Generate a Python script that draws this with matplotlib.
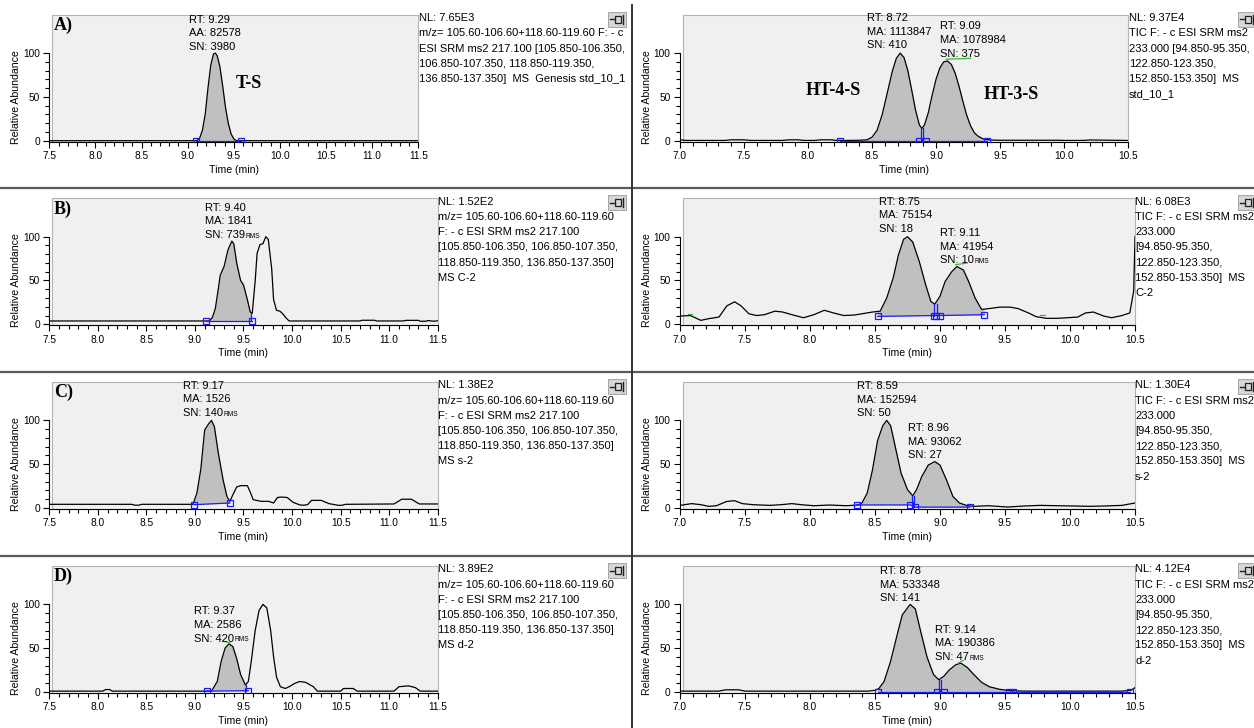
import numpy as np
import matplotlib.pyplot as plt
from matplotlib.patches import Rectangle
from matplotlib.lines import Line2D
from matplotlib.ticker import MultipleLocator, FixedLocator, FormatStrFormatter

plt.rcParams['font.family'] = ['Liberation Sans', 'DejaVu Sans']

W, H = 1254, 728  # output size in px (dpi 100)

# ---------------- traces (time in min, relative abundance) ----------------
# A) standards
t_A1 = [7.50, 9.10, 9.13, 9.16, 9.19, 9.22, 9.25, 9.28, 9.30, 9.32, 9.35, 9.38,
        9.41, 9.44, 9.47, 9.50, 9.53, 11.50]
y_A1 = [0, 0, 3, 12, 30, 60, 86, 99, 100, 97, 84, 62, 38, 20, 8, 2, 0, 0]

t_A2 = [7.00, 7.05, 7.35, 7.40, 7.50, 7.55, 7.80, 7.85, 7.92, 7.97, 8.05, 8.10,
        8.18, 8.22, 8.30, 8.40, 8.46, 8.50, 8.54, 8.58, 8.62, 8.66, 8.69, 8.72,
        8.75, 8.78, 8.81, 8.84, 8.87, 8.89, 8.91, 8.94, 8.97, 9.00, 9.03, 9.06,
        9.09, 9.12, 9.15, 9.18, 9.21, 9.24, 9.27, 9.30, 9.33, 9.37, 9.42, 9.50,
        9.95, 10.00, 10.15, 10.20, 10.50]
y_A2 = [1.0, 0.3, 0.3, 1.0, 1.0, 0.3, 0.3, 1.0, 1.0, 0.3, 0.3, 1.0, 1.0, 0.3,
        0.3, 0.5, 1, 4, 12, 30, 55, 80, 94, 100, 95, 80, 58, 35, 18, 14, 18, 32,
        52, 70, 83, 90, 91, 87, 77, 62, 45, 29, 17, 9, 5, 2, 0.8, 0.5, 0.5, 0.3,
        0.3, 0.8, 0.3]

# B) C-2
t_B1 = [7.50, 9.15, 9.18, 9.21, 9.24, 9.26, 9.30, 9.34, 9.38, 9.40, 9.43, 9.47,
        9.50, 9.54, 9.57, 9.59, 9.62, 9.64, 9.67, 9.70, 9.73, 9.755, 9.79, 9.81,
        9.84, 9.875, 9.90, 9.94, 9.97, 10.70, 10.72, 10.85, 10.87, 11.15, 11.17,
        11.30, 11.32, 11.38, 11.40, 11.46, 11.50]
y_B1 = [3.8, 3.8, 8, 18, 40, 56, 66, 85, 95, 92, 70, 50, 45, 28, 14, 12.5, 49,
        81, 91, 92, 100, 97, 64, 28, 16, 15, 12.5, 7, 3.8, 3.8, 4.6, 4.6, 3.8,
        3.8, 4.5, 4.5, 3.5, 3.5, 4.3, 3.5, 4.0]

t_B2 = [7.00, 7.08, 7.16, 7.22, 7.30, 7.36, 7.42, 7.47, 7.53, 7.59, 7.65, 7.73,
        7.79, 7.87, 7.95, 8.03, 8.11, 8.18, 8.26, 8.34, 8.40, 8.48, 8.54, 8.59,
        8.64, 8.68, 8.72, 8.75, 8.79, 8.84, 8.89, 8.93, 8.96, 9.00, 9.04, 9.09,
        9.13, 9.18, 9.22, 9.27, 9.32, 9.38, 9.46, 9.54, 9.60, 9.68, 9.74, 9.82,
        9.90, 9.98, 10.06, 10.12, 10.18, 10.26, 10.32, 10.40, 10.46, 10.49, 10.50]
y_B2 = [9.4, 10, 4.5, 6.4, 8.3, 21, 25.7, 21, 12, 10, 11, 15, 14, 10.6, 7.5, 11,
        16, 13, 10, 10.6, 12, 14, 15, 30, 53, 79, 97, 100, 94, 72, 45, 26, 23,
        32, 49, 60, 66, 62, 49, 30, 17, 18, 19.6, 19.6, 18, 13, 8.7, 6.8, 6.8,
        7.5, 8.3, 13, 14, 9.4, 7.5, 10, 13, 38, 100]

# C) s-2
t_C1 = [7.50, 8.35, 8.38, 8.42, 8.45, 8.98, 9.02, 9.06, 9.10, 9.14, 9.17, 9.20,
        9.24, 9.29, 9.33, 9.36, 9.39, 9.43, 9.47, 9.54, 9.57, 9.60, 9.68, 9.76,
        9.81, 9.85, 9.89, 9.95, 10.01, 10.08, 10.12, 10.16, 10.20, 10.30, 10.38,
        10.48, 10.52, 10.55, 11.05, 11.13, 11.23, 11.31, 11.50]
y_C1 = [4.2, 4.2, 3.2, 3.2, 4.2, 4.2, 17, 44, 89, 96, 100, 93, 63, 32, 13, 7.6,
        15, 24, 25.5, 25.5, 18, 9.5, 7.6, 7.6, 5.7, 12, 12.5, 12, 6.5, 3.5, 3.2,
        3.8, 8.7, 8.7, 5, 3, 3.2, 4.2, 4.6, 10, 10, 4.6, 4.6]

t_C2 = [7.00, 7.09, 7.16, 7.22, 7.28, 7.36, 7.42, 7.48, 7.56, 7.69, 7.78, 7.86,
        7.93, 8.03, 8.15, 8.28, 8.37, 8.40, 8.44, 8.48, 8.52, 8.56, 8.59, 8.62,
        8.65, 8.70, 8.75, 8.79, 8.82, 8.86, 8.91, 8.96, 9.00, 9.05, 9.10, 9.15,
        9.21, 9.27, 9.37, 9.52, 9.65, 9.77, 9.90, 10.02, 10.15, 10.27, 10.40, 10.50]
y_C2 = [3, 5, 3.8, 1.9, 2.6, 7.5, 8.3, 5, 3.8, 3, 3.8, 5, 3.8, 2.6, 3.4, 2.6,
        3.4, 5.7, 17, 43, 77, 94, 100, 94, 74, 40, 21, 14, 21, 36, 49, 53, 49, 32,
        13, 5.7, 2.6, 1.9, 2.6, 1.1, 2.3, 3, 2.6, 2.3, 1.9, 2.3, 3, 5.7]

# D) d-2
t_D1 = [7.50, 8.05, 8.08, 8.12, 8.15, 9.17, 9.23, 9.27, 9.31, 9.35, 9.39, 9.43,
        9.47, 9.52, 9.55, 9.58, 9.62, 9.66, 9.70, 9.74, 9.78, 9.81, 9.84, 9.88,
        9.93, 9.97, 10.03, 10.08, 10.14, 10.22, 10.26, 10.50, 10.53, 10.63, 10.67,
        11.05, 11.10, 11.20, 11.27, 11.32, 11.50]
y_D1 = [1, 1, 2.8, 2.8, 1, 1, 12, 35, 50, 55, 52, 38, 20, 8, 12, 35, 70, 93, 100,
        96, 70, 40, 17, 6, 4, 6, 10, 12, 11, 6, 1, 1, 4, 4, 1, 1, 6, 7, 5, 1, 1]

t_D2 = [7.00, 7.30, 7.35, 7.45, 7.50, 8.45, 8.50, 8.53, 8.57, 8.62, 8.67, 8.71,
        8.77, 8.81, 8.85, 8.90, 8.95, 8.99, 9.03, 9.07, 9.12, 9.16, 9.21, 9.26,
        9.32, 9.38, 9.46, 9.55, 9.65, 10.40, 10.47, 10.50]
y_D2 = [1, 1, 2.5, 2.5, 1, 1, 2, 4, 12, 35, 65, 88, 100, 95, 70, 40, 20, 14, 18,
        25, 31, 33, 28, 20, 11, 6, 3, 1.5, 1, 1, 2, 5]

# integrated peaks: (start, end, baseline at start, baseline at end)
peaks_A1 = [(9.09, 9.58, 0, 0)]
peaks_A2 = [(8.25, 8.89, 0, 0), (8.89, 9.40, 0, 0)]
peaks_B1 = [(9.11, 9.58, 3.5, 3.5)]
peaks_B2 = [(8.52, 8.96, 9, 10), (8.96, 9.34, 10, 11)]
peaks_C1 = [(8.99, 9.36, 3.8, 5.7)]
peaks_C2 = [(8.37, 8.79, 3.5, 3.5), (8.79, 9.24, 1, 1)]
peaks_D1 = [(9.13, 9.53, 1, 1.5)]
peaks_D2 = [(8.52, 9.00, 0.5, 0.5), (9.00, 9.55, 0.5, 0.5)]

# baseline markers
marks_A1 = [(9.09, 0), (9.58, 0)]
marks_A2 = [(8.25, 0), (8.87, 0), (8.92, 0), (9.40, 0)]
marks_B1 = [(9.11, 3.5), (9.59, 3.5)]
marks_B2 = [(8.52, 9), (8.95, 10), (8.97, 10), (9.00, 10), (9.34, 11)]
marks_C1 = [(8.99, 3.8), (9.36, 5.7)]
marks_C2 = [(8.36, 3.5), (8.77, 3.5), (8.81, 1), (9.23, 1)]
marks_D1 = [(9.12, 1), (9.55, 1.5)]
marks_D2 = [(8.52, 0.5), (8.98, 0.5), (9.03, 0.5), (9.53, 0.5), (9.56, 0.5), (10.46, 0.5)]

# peak split lines: (time, bottom, top)
splits_A2 = [(8.88, 0, 14), (8.90, 0, 14)]
splits_B1 = [(9.58, 3.5, 13)]
splits_B2 = [(8.955, 10, 23), (8.975, 10, 23)]
splits_C2 = [(8.785, 3, 14), (8.80, 1, 14)]
splits_D1 = [(9.53, 1.5, 8)]
splits_D2 = [(8.99, 0.5, 14), (9.01, 0.5, 14)]

# small green noise marks: (t0, t1, y0, y1)
green_A2 = [(9.08, 9.27, 93, 94)]
green_B2 = [(9.12, 9.21, 68, 70), (7.06, 7.09, 12, 12), (9.77, 9.81, 11, 11)]
green_D1 = [(9.29, 9.36, 58, 56)]
green_D2 = [(9.14, 9.18, 33, 36)]

# peak labels: (x, top y, lines, rms on last line)
ann_A1 = [(9.01, 138, ['RT: 9.29', 'AA: 82578', 'SN: 3980'], False)]
ann_A2 = [(8.46, 140, ['RT: 8.72', 'MA: 1113847', 'SN: 410'], False),
          (9.03, 130.5, ['RT: 9.09', 'MA: 1078984', 'SN: 375'], False)]
ann_B1 = [(9.10, 133, ['RT: 9.40', 'MA: 1841', 'SN: 739'], True)]
ann_B2 = [(8.53, 140, ['RT: 8.75', 'MA: 75154', 'SN: 18'], False),
          (9.00, 104, ['RT: 9.11', 'MA: 41954', 'SN: 10'], True)]
ann_C1 = [(8.88, 139.5, ['RT: 9.17', 'MA: 1526', 'SN: 140'], True)]
ann_C2 = [(8.36, 139, ['RT: 8.59', 'MA: 152594', 'SN: 50'], False),
          (8.75, 91, ['RT: 8.96', 'MA: 93062', 'SN: 27'], False)]
ann_D1 = [(8.99, 92, ['RT: 9.37', 'MA: 2586', 'SN: 420'], True)]
ann_D2 = [(8.54, 138, ['RT: 8.78', 'MA: 533348', 'SN: 141'], False),
          (8.96, 71, ['RT: 9.14', 'MA: 190386', 'SN: 47'], True)]

# compound names
names_A1 = [(9.66, 65, 'T-S')]
names_A2 = [(8.20, 57, 'HT-4-S'), (9.59, 53, 'HT-3-S')]

info_left_A = ['NL: 7.65E3', 'm/z= 105.60-106.60+118.60-119.60 F: - c',
               'ESI SRM ms2 217.100 [105.850-106.350,',
               '106.850-107.350, 118.850-119.350,',
               '136.850-137.350]  MS  Genesis std_10_1']
info_left_head = ['m/z= 105.60-106.60+118.60-119.60', 'F: - c ESI SRM ms2 217.100',
                  '[105.850-106.350, 106.850-107.350,', '118.850-119.350, 136.850-137.350]']
info_right_A = ['NL: 9.37E4', 'TIC F: - c ESI SRM ms2', '233.000 [94.850-95.350,',
                '122.850-123.350,', '152.850-153.350]  MS', 'std_10_1']
info_right_head = ['TIC F: - c ESI SRM ms2', '233.000', '[94.850-95.350,',
                   '122.850-123.350,', '152.850-153.350]  MS']

# ---------------- layout (pixels) ----------------
row_zero = [140.7, 324.3, 508.0, 692.0]   # pixel row of y = 0
PX_PER_UNIT = 0.876                         # vertical px per abundance unit
YMIN, YMAX = -1, 144

fig = plt.figure(figsize=(W / 100, H / 100), dpi=100)
rms_texts = []


def fx(x):
    return x / W


def fy(y):
    return 1 - y / H


def fill_peak(ax, t, y, t0, t1, b0, b1):
    t = np.asarray(t, float)
    y = np.asarray(y, float)
    inside = (t > t0) & (t < t1)
    tt = np.concatenate([[t0], t[inside], [t1]])
    yy = np.interp(tt, t, y)
    bb = np.interp(tt, [t0, t1], [b0, b1])
    ax.fill_between(tt, bb, yy, color='#c0c0c0', lw=0, zorder=1)


def pin(xp, yp):
    fig.add_artist(Rectangle((fx(xp), fy(yp + 15)), 18 / W, 15 / H,
                             transform=fig.transFigure, fc='#d6d6d6',
                             ec='#9a9a9a', lw=0.6))
    yc = fy(yp + 7.5)
    fig.add_artist(Line2D([fx(xp + 2), fx(xp + 7)], [yc, yc], color='#222222', lw=1))
    fig.add_artist(Rectangle((fx(xp + 7), fy(yp + 11)), 6 / W, 7 / H,
                             transform=fig.transFigure, fc='none', ec='#222222', lw=0.9))
    fig.add_artist(Line2D([fx(xp + 14.5), fx(xp + 14.5)], [fy(yp + 3), fy(yp + 12)],
                          color='#222222', lw=1))


def panel(row, x0, x1, xlim, t, y, peaks, marks, splits, greens, anns, names,
          info, info_x, letter=None):
    y0 = row_zero[row]
    top = y0 - YMAX * PX_PER_UNIT
    bot = y0 - YMIN * PX_PER_UNIT
    ax = fig.add_axes([fx(x0), fy(bot), (x1 - x0) / W, (bot - top) / H])
    ax.set_facecolor('none')
    ax.add_patch(Rectangle((0.006, 0), 0.994, 1, transform=ax.transAxes,
                           fc='#f0f0f0', ec='#b4b4b4', lw=0.8, zorder=0, clip_on=False))
    ax.spines['top'].set_visible(False)
    ax.spines['right'].set_visible(False)
    ax.spines['left'].set_bounds(0, 100)
    ax.spines['left'].set_linewidth(0.8)
    ax.spines['bottom'].set_linewidth(0.8)
    ax.set_xlim(*xlim)
    ax.set_ylim(YMIN, YMAX)
    ax.xaxis.set_major_locator(MultipleLocator(0.5))
    ax.xaxis.set_minor_locator(MultipleLocator(0.1))
    ax.xaxis.set_major_formatter(FormatStrFormatter('%.1f'))
    ax.yaxis.set_major_locator(FixedLocator([0, 50, 100]))
    ax.yaxis.set_minor_locator(FixedLocator(list(range(0, 101, 10))))
    ax.tick_params(which='major', length=4.5, width=0.8, labelsize=7.3, pad=2.3)
    ax.tick_params(which='minor', length=3, width=0.8)

    for (a, b, c, d) in peaks:
        fill_peak(ax, t, y, a, b, c, d)
    ax.plot(t, y, color='black', lw=0.9, zorder=3)

    # blue baseline joining the marker squares
    bx = [m[0] for m in marks]
    by = [m[1] for m in marks]
    ax.plot(bx, by, color='#1a1aff', lw=0.9, zorder=4)
    ax.plot(bx, by, ls='none', marker='s', ms=5, mfc='none', mec='#1a1aff',
            mew=0.9, zorder=5)
    for (s, lo, hi) in splits:
        ax.plot([s, s], [lo, hi], color='#1a1aff', lw=0.9, zorder=4)
    for (a, b, c, d) in greens:
        ax.plot([a, b], [c, d], color='#33bb33', lw=0.9, zorder=4)

    for (xa, ya, lines, rms) in anns:
        for i, s in enumerate(lines):
            tx = ax.text(xa, ya - i * 15.5, s, fontsize=8, ha='left', va='center',
                         zorder=6)
        if rms:
            rms_texts.append(tx)
    for (xa, ya, s) in names:
        ax.text(xa, ya, s, fontsize=13, fontweight='bold', ha='center', va='center',
                family='Liberation Serif', zorder=6)
    if letter:
        ax.text(0.012, 0.915, letter, transform=ax.transAxes, fontsize=13,
                fontweight='bold', family='Liberation Serif', ha='left', va='center')

    # axis titles
    fig.text(fx(x0 - 33), fy(y0 - 44), 'Relative Abundance', rotation=90,
             fontsize=7.6, ha='center', va='center')
    fig.text(fx((x0 + x1) / 2), fy(y0 + 29), 'Time (min)', fontsize=7.6,
             ha='center', va='center')

    # instrument text block on the right
    row_top = y0 - 137
    for i, s in enumerate(info):
        fig.text(fx(info_x), fy(row_top + 14.5 + i * 15.2), s, fontsize=8,
                 ha='left', va='center')
    return ax


XL = (7.5, 11.5)
XR = (7.0, 10.5)

panel(0, 49.3, 418.3, XL, t_A1, y_A1, peaks_A1, marks_A1, [], [], ann_A1,
      names_A1, info_left_A, 419, 'A)')
panel(0, 680, 1128, XR, t_A2, y_A2, peaks_A2, marks_A2, splits_A2, green_A2,
      ann_A2, names_A2, info_right_A, 1129)

panel(1, 49.3, 437.7, XL, t_B1, y_B1, peaks_B1, marks_B1, splits_B1, [], ann_B1,
      [], ['NL: 1.52E2'] + info_left_head + ['MS C-2'], 438, 'B)')
panel(1, 680, 1135, XR, t_B2, y_B2, peaks_B2, marks_B2, splits_B2, green_B2,
      ann_B2, [], ['NL: 6.08E3'] + info_right_head + ['C-2'], 1135)

panel(2, 49.3, 437.7, XL, t_C1, y_C1, peaks_C1, marks_C1, [], [], ann_C1,
      [], ['NL: 1.38E2'] + info_left_head + ['MS s-2'], 438, 'C)')
panel(2, 680, 1135, XR, t_C2, y_C2, peaks_C2, marks_C2, splits_C2, [],
      ann_C2, [], ['NL: 1.30E4'] + info_right_head + ['s-2'], 1135)

panel(3, 49.3, 437.7, XL, t_D1, y_D1, peaks_D1, marks_D1, splits_D1, green_D1,
      ann_D1, [], ['NL: 3.89E2'] + info_left_head + ['MS d-2'], 438, 'D)')
panel(3, 680, 1135, XR, t_D2, y_D2, peaks_D2, marks_D2, splits_D2, green_D2,
      ann_D2, [], ['NL: 4.12E4'] + info_right_head + ['d-2'], 1135)

# pins, separators
for y0 in row_zero:
    pin(608, y0 - 129)
    pin(1238, y0 - 129)
for ys in [188, 372, 556]:
    fig.add_artist(Line2D([0, 1], [fy(ys), fy(ys)], color='#5a5a5a', lw=1.6))
fig.add_artist(Line2D([fx(632), fx(632)], [fy(5), 0], color='#333333', lw=1.4))

# small "RMS" tag after the S/N values
fig.canvas.draw()
for tx in rms_texts:
    bb = tx.get_window_extent()
    fig.text((bb.x1 + 0.5) / W, (bb.y0 + 2.4) / H, 'RMS', fontsize=4.8,
             ha='left', va='baseline')

fig.savefig('out.png', dpi=100)
